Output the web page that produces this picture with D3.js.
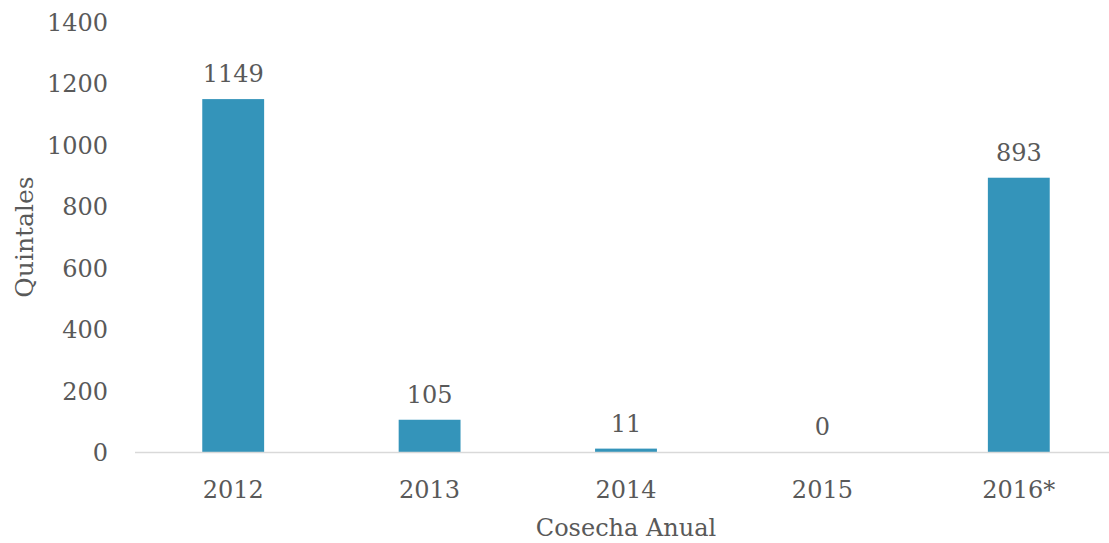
<!DOCTYPE html>
<html>
<head>
<meta charset="utf-8">
<script src="https://cdn.jsdelivr.net/npm/d3@7"></script>
<style>
  body { margin: 0; background: #fff; }
  svg text { font-family: "DejaVu Serif", serif; fill: #595959; }
</style>
</head>
<body>
<svg id="chart" width="1109" height="543"></svg>
<script>
const categories = ["2012", "2013", "2014", "2015", "2016*"];
const values = [1149, 105, 11, 0, 893];
const yTicks = [0, 200, 400, 600, 800, 1000, 1200, 1400];
const xTitle = "Cosecha Anual";
const yTitle = "Quintales";

(function () {
const svg = d3.select("#chart");
const mLeft = 135, mRight = 1117, mTop = 22, mBottom = 452;

const x = d3.scaleBand().domain(categories).range([mLeft, mRight]).paddingInner(0.685).paddingOuter(0.3425);
const y = d3.scaleLinear().domain([0, 1400]).range([mBottom, mTop]);

// y tick labels
svg.append("g").selectAll("text").data(yTicks).join("text")
  .attr("x", 108).attr("y", d => y(d) + 9)
  .attr("text-anchor", "end").attr("font-size", 24)
  .text(d => d);

// bars
svg.append("g").selectAll("rect").data(values).join("rect")
  .attr("x", (d, i) => x(categories[i]))
  .attr("width", x.bandwidth())
  .attr("y", d => y(d))
  .attr("height", d => mBottom - y(d))
  .attr("fill", "#3494BA");

// axis line
svg.append("line").attr("x1", mLeft).attr("x2", 1109).attr("y1", mBottom + 0.5).attr("y2", mBottom + 0.5)
  .attr("stroke", "#d9d9d9").attr("stroke-width", 1.5);

// data labels
svg.append("g").selectAll("text").data(values).join("text")
  .attr("x", (d, i) => x(categories[i]) + x.bandwidth() / 2)
  .attr("y", d => y(d) - 17)
  .attr("text-anchor", "middle").attr("font-size", 24)
  .text(d => d);

// x labels
svg.append("g").selectAll("text").data(categories).join("text")
  .attr("x", d => x(d) + x.bandwidth() / 2)
  .attr("y", 498)
  .attr("text-anchor", "middle").attr("font-size", 24)
  .text(d => d);

// axis titles
svg.append("text").attr("x", (mLeft + mRight) / 2).attr("y", 536)
  .attr("text-anchor", "middle").attr("font-size", 24).text(xTitle);
svg.append("text").attr("transform", `translate(33,${(mTop + mBottom) / 2}) rotate(-90)`)
  .attr("text-anchor", "middle").attr("font-size", 25).text(yTitle);
})();
</script>
</body>
</html>
